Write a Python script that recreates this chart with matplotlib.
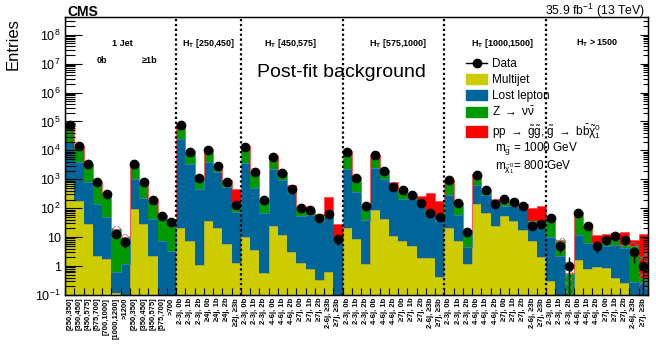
import numpy as np
import matplotlib
matplotlib.use('Agg')
import matplotlib.pyplot as plt
import matplotlib.transforms as mtransforms
from matplotlib.patches import Patch
from matplotlib.lines import Line2D

plt.rcParams['font.family'] = ['Liberation Sans', 'DejaVu Sans']
plt.rcParams['mathtext.fontset'] = 'custom'
plt.rcParams['mathtext.rm'] = 'Liberation Sans'
plt.rcParams['mathtext.it'] = 'Liberation Sans:italic'
plt.rcParams['mathtext.bf'] = 'Liberation Sans:bold'
plt.rcParams['hatch.linewidth'] = 0.6

# Rótulos dos bins
lab_1j = ['[250,350]', '[350,450]', '[450,575]', '[575,700]', '[700,1000]', '[1000,1200]', '>1200',
          '[250,350]', '[350,450]', '[450,575]', '[575,700]', '>700']
lab_ht1 = ['2-3j, 0b', '2-3j, 1b', '2-3j, 2b', '≥4j, 0b', '≥4j, 1b', '≥4j, 2b', '≥2j, ≥3b']
lab_ht = ['2-3j, 0b', '2-3j, 1b', '2-3j, 2b', '4-6j, 0b', '4-6j, 1b', '4-6j, 2b',
          '≥7j, 0b', '≥7j, 1b', '≥7j, 2b', '2-6j, ≥3b', '≥7j, ≥3b']
bin_labels = lab_1j + lab_ht1 + lab_ht * 4

# Valores
multijet = [850, 180, 28, 2.2, 1.7, 0.12, 0, 92, 28, 2.2, 0, 0,
            21, 7.3, 1.1, 36, 21, 6, 1.3,
            10, 3.5, 0.57, 24, 12, 3.1, 1.26, 0.8, 0.33, 0.6, 0,
            21, 8.3, 1.2, 87, 44, 11, 7.3, 4.8, 1.9, 1.9, 0.43,
            21, 7.3, 1.2, 137, 71, 25, 55, 35, 18, 7.5, 2,
            0.3, 0, 0, 1.6, 0.8, 0.9, 0.85, 0.4, 0.26, 0, 0]
lost_lepton = [19150, 3820, 752, 135, 48, 0.48, 1.2, 908, 207, 39, 7.3, 3.2,
               24000, 3393, 459, 3864, 1719, 554, 73,
               3590, 487, 70, 2276, 928, 327, 52, 56, 33, 50, 9.3,
               2280, 362, 38, 2413, 956, 409, 198, 200, 153, 78, 35.6,
               259, 50, 3.4, 493, 209, 115, 65, 85, 82, 27.5, 20,
               9.7, 2.2, 0, 10.4, 5.5, 5.1, 4.15, 5.1, 3.94, 0.28, 0.25]
znunu = [50000, 10000, 2700, 660, 280, 18, 8.8, 2600, 565, 160, 48, 38,
         56000, 6100, 590, 7100, 1260, 260, 81,
         10400, 1260, 130, 3900, 760, 140, 57, 23, 12, 3, 0.2,
         6700, 830, 86, 4500, 1000, 130, 205, 65, 20, 5, 4,
         670, 93, 12.4, 820, 150, 20, 30, 30, 10, 1, 1,
         35, 5.3, 0.55, 62, 19.7, 0.5, 2, 2.5, 1.3, 4.5, 0.15]
signal = [500, 150, 40, 10, 4, 0.3, 0.2, 50, 12, 4, 1, 1,
          1000, 150, 30, 200, 80, 130, 325,
          200, 40, 6, 150, 50, 150, 10, 5, 16, 190, 20,
          200, 30, 4, 150, 60, 250, 30, 30, 95, 255, 140,
          20, 5, 0.5, 40, 20, 50, 65, 25, 30, 69, 92,
          3, 0.5, 0.02, 3, 1, 5.5, 6, 6, 9.5, 3.5, 12.6]
data = [73000, 14000, 3500, 810, 300, 13, 7, 3500, 780, 195, 53, 33,
        78000, 9100, 1070, 10700, 2950, 810, 125,
        13500, 1740, 195, 6000, 1650, 480, 105, 87, 47, 62, 8.3,
        8700, 1150, 120, 6700, 2000, 540, 430, 280, 155, 71, 51,
        940, 148, 15, 1400, 420, 135, 205, 165, 115, 24, 28,
        47, 5, 1, 71, 24, 5, 8, 11, 8, 3, 1]

# Banda de incerteza (alguns bins)
band_bins = [5, 6, 53, 54, 60, 61, 62]
band_lo = [15, 7.5, 5.5, 0.1, 4.2, 2.5, 0.15]
band_hi = [24, 13, 9.5, 0.75, 7.3, 7, 2.8]

separators = [12, 19, 30, 41, 52]

nb = len(data)
edges = np.arange(nb + 1)
centers = edges[:-1] + 0.5

fig = plt.figure(figsize=(6.56, 3.53), dpi=100)
ax = fig.add_axes([65/656, 1 - 295/353, 582.75/656, (295 - 17.3)/353])

comps = [(multijet, '#CCCC00', '#A8A83A'),
         (lost_lepton, '#006699', '#3A7FA8'),
         (znunu, '#009900', '#3AA03A'),
         (signal, '#FF0000', '#FF5A5A')]
base = np.full(nb, 1e-3)
for vals, fc, ec in comps:
    top = base + np.array(vals)
    ax.stairs(top, edges, baseline=base, fill=True, color=fc, lw=0)
    ax.stairs(top, edges, baseline=None, color=ec, lw=0.7)
    base = top

for b, lo, hi in zip(band_bins, band_lo, band_hi):
    ax.bar(b + 0.5, hi - lo, bottom=lo, width=1, fill=False, hatch='xxxx',
           edgecolor='#777777', linewidth=0)

d = np.array(data, dtype=float)
err = np.sqrt(d)
err_lo = np.minimum(err, d * 0.999)
ax.errorbar(centers, d, yerr=[err_lo, err], fmt='o', color='k', ms=6, lw=1, capsize=0)

for s in separators:
    ax.axvline(s, color='k', ls=(0, (1, 1.2)), lw=1.6)

ax.set_yscale('log')
ax.set_ylim(0.1, 4e8)
ax.set_xlim(0, nb)

major = [10.0**e for e in range(-1, 9)]
ylabels = ['$10^{-1}$', '1', '10'] + ['$10^{%d}$' % e for e in range(2, 9)]
minor = [m * 10.0**e for e in range(-1, 9) for m in range(2, 10) if m * 10.0**e <= 4e8]
ax.set_yticks(major)
ax.set_yticklabels(ylabels)
ax.set_yticks(minor, minor=True)
ax.yaxis.set_minor_formatter(plt.NullFormatter())
ax.tick_params(axis='y', which='major', direction='in', length=12, width=0.8, labelsize=9, pad=3)
ax.tick_params(axis='y', which='minor', direction='in', length=7, width=0.8)

ax2 = ax.twinx()
ax2.set_yscale('log')
ax2.set_ylim(ax.get_ylim())
ax2.set_yticks(major)
ax2.set_yticks(minor, minor=True)
ax2.tick_params(axis='y', which='major', direction='in', length=6, width=0.8, labelright=False)
ax2.tick_params(axis='y', which='minor', direction='in', length=3.5, width=0.8, labelright=False)

ax.set_xticks(centers)
ax.set_xticklabels(bin_labels, rotation=90, fontsize=5.5, fontweight='bold')
ax.set_xticks(edges, minor=True)
ax.tick_params(axis='x', which='major', length=0, pad=2)
ax.tick_params(axis='x', which='minor', direction='in', length=5, width=0.8)

for sp in ax.spines.values():
    sp.set_linewidth(1)

trans = mtransforms.blended_transform_factory(ax.transData, ax.transAxes)
ax.text(6.2, 0.905, '1 Jet', transform=trans, ha='center', va='center', fontsize=6.5, fontweight='bold')
ax.text(4.0, 0.846, '0b', transform=trans, ha='center', va='center', fontsize=6.5, fontweight='bold')
ax.text(9.1, 0.846, '≥1b', transform=trans, ha='center', va='center', fontsize=6.5, fontweight='bold')
ht_text = [r'H$_\mathbf{T}$ [250,450]', r'H$_\mathbf{T}$ [450,575]', r'H$_\mathbf{T}$ [575,1000]',
           r'H$_\mathbf{T}$ [1000,1500]', r'H$_\mathbf{T}$ > 1500']
ht_pos = [15.5, 24.4, 36.0, 47.3, 57.6]
for xp, t in zip(ht_pos, ht_text):
    ax.text(xp, 0.905, t, transform=trans, ha='center', va='center', fontsize=6.5, fontweight='bold')

ax.text(29.9, 0.803, 'Post-fit background', transform=trans, ha='center', va='center', fontsize=14)

handles = [Line2D([0], [0], color='k', marker='o', ms=6, lw=1),
           Patch(facecolor='#CCCC00', edgecolor='#CCCC00'),
           Patch(facecolor='#006699', edgecolor='#006699'),
           Patch(facecolor='#009900', edgecolor='#009900'),
           Patch(facecolor='#FF0000', edgecolor='#FF0000')]
labels = ['Data', 'Multijet', 'Lost lepton', r'Z $\rightarrow$ $\mathrm{\nu\bar{\nu}}$',
          r'pp $\rightarrow$ $\mathrm{\tilde{g}\tilde{g}}$, $\mathrm{\tilde{g}}$ $\rightarrow$ '
          r'$\mathrm{b\bar{b}\tilde{\chi}^{0}_{1}}$']
fig.legend(handles, labels, loc='upper left', bbox_to_anchor=(466/656, 1 - 58/353),
           frameon=False, fontsize=8.5, handlelength=1.8, handleheight=1.0,
           handletextpad=0.4, labelspacing=0.3, borderaxespad=0, borderpad=0)
fig.text(495/656, 1 - 150/353, r'm$_{\mathrm{\tilde{g}}}$ = 1000 GeV', va='center', fontsize=8.5)
fig.text(495/656, 1 - 167/353, r'm$_{\mathrm{\tilde{\chi}^{0}_{1}}}$= 800 GeV', va='center', fontsize=8.5)

fig.text(13/656, 1 - 18/353, 'Entries', rotation=90, ha='center', va='top', fontsize=12)
fig.text(67/656, 1 - 15.5/353, 'CMS', fontweight='bold', fontsize=10, va='baseline')
fig.text(645/656, 1 - 15.5/353, r'35.9 fb$^{-1}$ (13 TeV)', ha='right', va='baseline', fontsize=8.8)

fig.savefig('out.png', dpi=100)
